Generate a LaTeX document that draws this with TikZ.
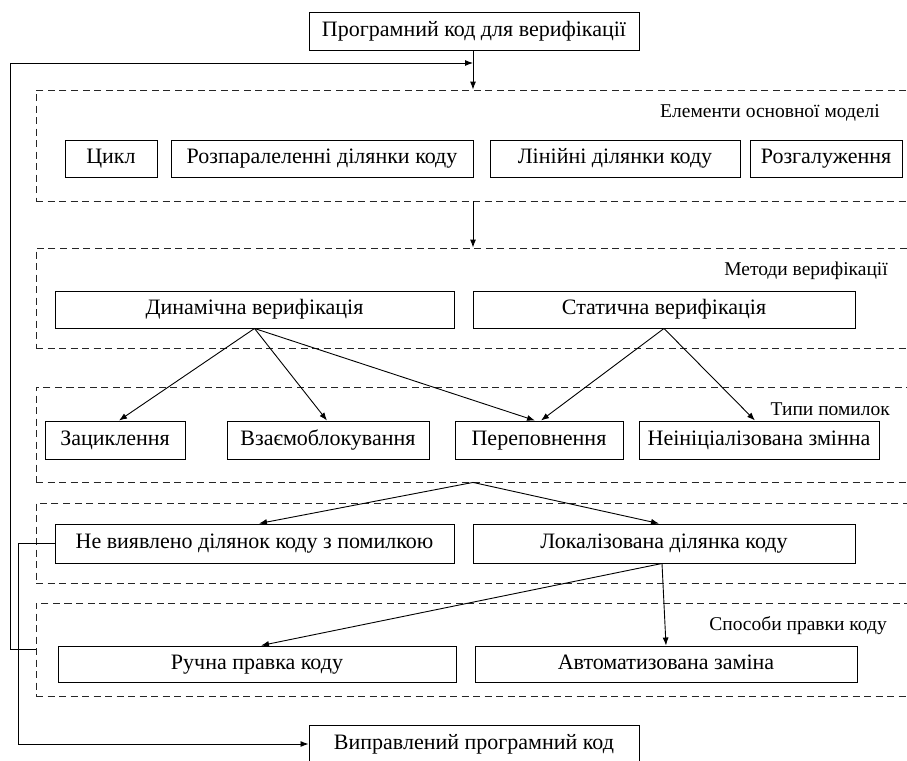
\documentclass[tikz,border=0pt]{standalone}
\usepackage{fontspec}
\setmainfont{Liberation Serif}
\usetikzlibrary{arrows.meta}
\begin{document}
\begin{tikzpicture}[x=1pt,y=-1pt,
  box/.style={draw=black, line width=0.95pt, fill=white, inner sep=0pt, minimum height=37pt,
     text height=15pt, text depth=4.5pt, font=\fontsize{22}{24}\selectfont},
  group/.style={draw=black!85, line width=0.85pt, dash pattern=on 7pt off 4.5pt, inner sep=0pt, minimum width=874pt},
  glabel/.style={anchor=east, inner sep=0pt, font=\fontsize{19.5}{22}\selectfont},
  arr/.style={draw=black, line width=0.9pt, -{Latex[length=8pt,width=6pt]}},
  ln/.style={draw=black, line width=0.9pt}]
\useasboundingbox[fill=white] (0,0) rectangle (907,760);
% group frames
\node[group, minimum height=111pt] (A) at (473,145.5) {};
\node[group, minimum height=100pt] (B) at (473,298) {};
\node[group, minimum height=95pt] (C) at (473,434.5) {};
\node[group, minimum height=80pt] (D) at (473,543) {};
\node[group, minimum height=93pt] (E) at (473,649.5) {};
% group labels
\node[glabel] (lA) at (880,113) {Елементи основної моделі};
\node[glabel] (lB) at (888,271) {Методи верифікації};
\node[glabel] (lC) at (890,409) {Типи помилок};
\node[glabel] (lE) at (887,626) {Способи правки коду};
% boxes
\node[box, minimum width=330pt, minimum height=38pt] (top) at (474,31) {Програмний код для верифікації};
\node[box, minimum width=92pt] (cyc) at (111,158.5) {Цикл};
\node[box, minimum width=302pt] (razp) at (322,158.5) {Розпаралеленні ділянки коду};
\node[box, minimum width=250pt] (lin) at (615,158.5) {Лінійні ділянки коду};
\node[box, minimum width=152pt] (rozg) at (826,158.5) {Розгалуження};
\node[box, minimum width=399pt] (dyn) at (254.5,309.5) {Динамічна верифікація};
\node[box, minimum width=382pt] (stat) at (664,309.5) {Статична верифікація};
\node[box, minimum width=140pt, minimum height=38pt] (zac) at (115,440) {Зациклення};
\node[box, minimum width=202pt, minimum height=38pt] (vza) at (328,440) {Взаємоблокування};
\node[box, minimum width=168pt, minimum height=38pt] (per) at (539,440) {Переповнення};
\node[box, minimum width=240pt, minimum height=38pt] (nei) at (759,440) {Неініціалізована змінна};
\node[box, minimum width=399pt, minimum height=39pt] (nev) at (254.5,543.5) {Не виявлено ділянок коду з помилкою};
\node[box, minimum width=382pt, minimum height=39pt] (lok) at (664,543.5) {Локалізована ділянка коду};
\node[box, minimum width=398pt, minimum height=36pt] (ruch) at (257,664) {Ручна правка коду};
\node[box, minimum width=382pt, minimum height=36pt] (avto) at (666,664) {Автоматизована заміна};
\node[box, minimum width=330pt, minimum height=38pt] (fix) at (474,744) {Виправлений програмний код};
% connectors
\coordinate (join) at (473,63);
\draw[arr] (top.south -| A.north) -- (A.north);
\draw[arr] (A.south) -- (B.north);
\draw[arr] (dyn.south) -- ([xshift=4pt]zac.north);
\draw[arr] (dyn.south) -- ([xshift=-1pt]vza.north);
\draw[arr] (dyn.south) -- ([xshift=-4pt]per.north);
\draw[arr] (stat.south) -- ([xshift=2pt]per.north);
\draw[arr] (stat.south) -- ([xshift=-4pt]nei.north);
\draw[arr] (C.south) -- ([xshift=4.5pt]nev.north);
\draw[arr] (C.south) -- ([xshift=-5pt]lok.north);
\draw[arr] ([xshift=-2pt]lok.south) -- ([xshift=4pt]ruch.north);
\draw[arr] ([xshift=-2pt]lok.south) -- (avto.north);
% feedback loops
\draw[arr] (E.west) -- (10,649.5) |- (join);
\draw[arr] (nev.west) -- (18,543.5) |- (fix.west);
\end{tikzpicture}
\end{document}
